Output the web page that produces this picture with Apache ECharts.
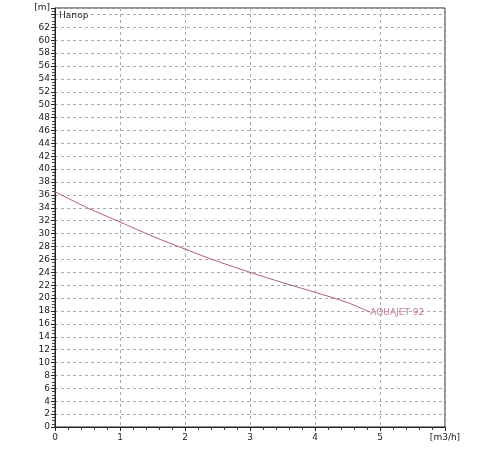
<!DOCTYPE html>
<html><head><meta charset="utf-8">
<script src="https://cdn.jsdelivr.net/npm/echarts@6/dist/echarts.min.js"></script>
<style>body{margin:0;background:#fff}#c{width:500px;height:450px}</style>
</head><body><div id="c"></div>
<script>
var flow = [0, 0.5, 1, 1.5, 2, 2.5, 3, 3.5, 4, 4.5, 4.85];
var head = [36.5, 34, 31.8, 29.6, 27.6, 25.7, 24, 22.4, 20.9, 19.3, 17.8];
var seriesName = 'AQUAJET 92';

var chart = echarts.init(document.getElementById('c'));
var font = 'DejaVu Sans';
chart.setOption({
  animation: false,
  grid: {left: 55, right: 55, top: 8, bottom: 23, show: true, borderColor: '#222', borderWidth: 1},
  graphic: [{type: 'text', left: 59, top: 11, style: {text: 'Напор', font: '9px ' + font, fill: '#222'}}],
  xAxis: {
    type: 'value', min: 0, max: 6, interval: 1,
    axisLine: {lineStyle: {color: '#222'}},
    axisTick: {show: true, length: 4, lineStyle: {color: '#222'}},
    minorTick: {show: true, splitNumber: 5, length: 3, lineStyle: {color: '#444'}},
    axisLabel: {fontSize: 9, fontFamily: font, color: '#222', margin: 6,
      formatter: function (v) { return v === 6 ? '[m3/h]' : v; }},
    splitLine: {show: true, lineStyle: {type: [3, 3], color: '#aaa'}}
  },
  yAxis: {
    type: 'value', min: 0, max: 65, interval: 2,
    axisLine: {show: true, lineStyle: {color: '#222'}},
    axisTick: {show: true, length: 4, lineStyle: {color: '#222'}},
    minorTick: {show: true, splitNumber: 4, length: 3, lineStyle: {color: '#444'}},
    axisLabel: {fontSize: 9, fontFamily: font, color: '#222', margin: 5, showMaxLabel: true, hideOverlap: false,
      formatter: function (v) { return v === 65 ? '[m]' : v; }},
    splitLine: {show: true, lineStyle: {type: [3, 3], color: '#aaa'}}
  },
  series: [{
    name: seriesName, type: 'line', showSymbol: false, smooth: 0.3,
    data: flow.map(function (f, i) { return [f, head[i]]; }),
    lineStyle: {color: '#b0606a', width: 1},
    endLabel: {show: true, formatter: seriesName, color: '#c08088', fontSize: 9, fontFamily: font, offset: [-8, 0]}
  }]
});
</script></body></html>
